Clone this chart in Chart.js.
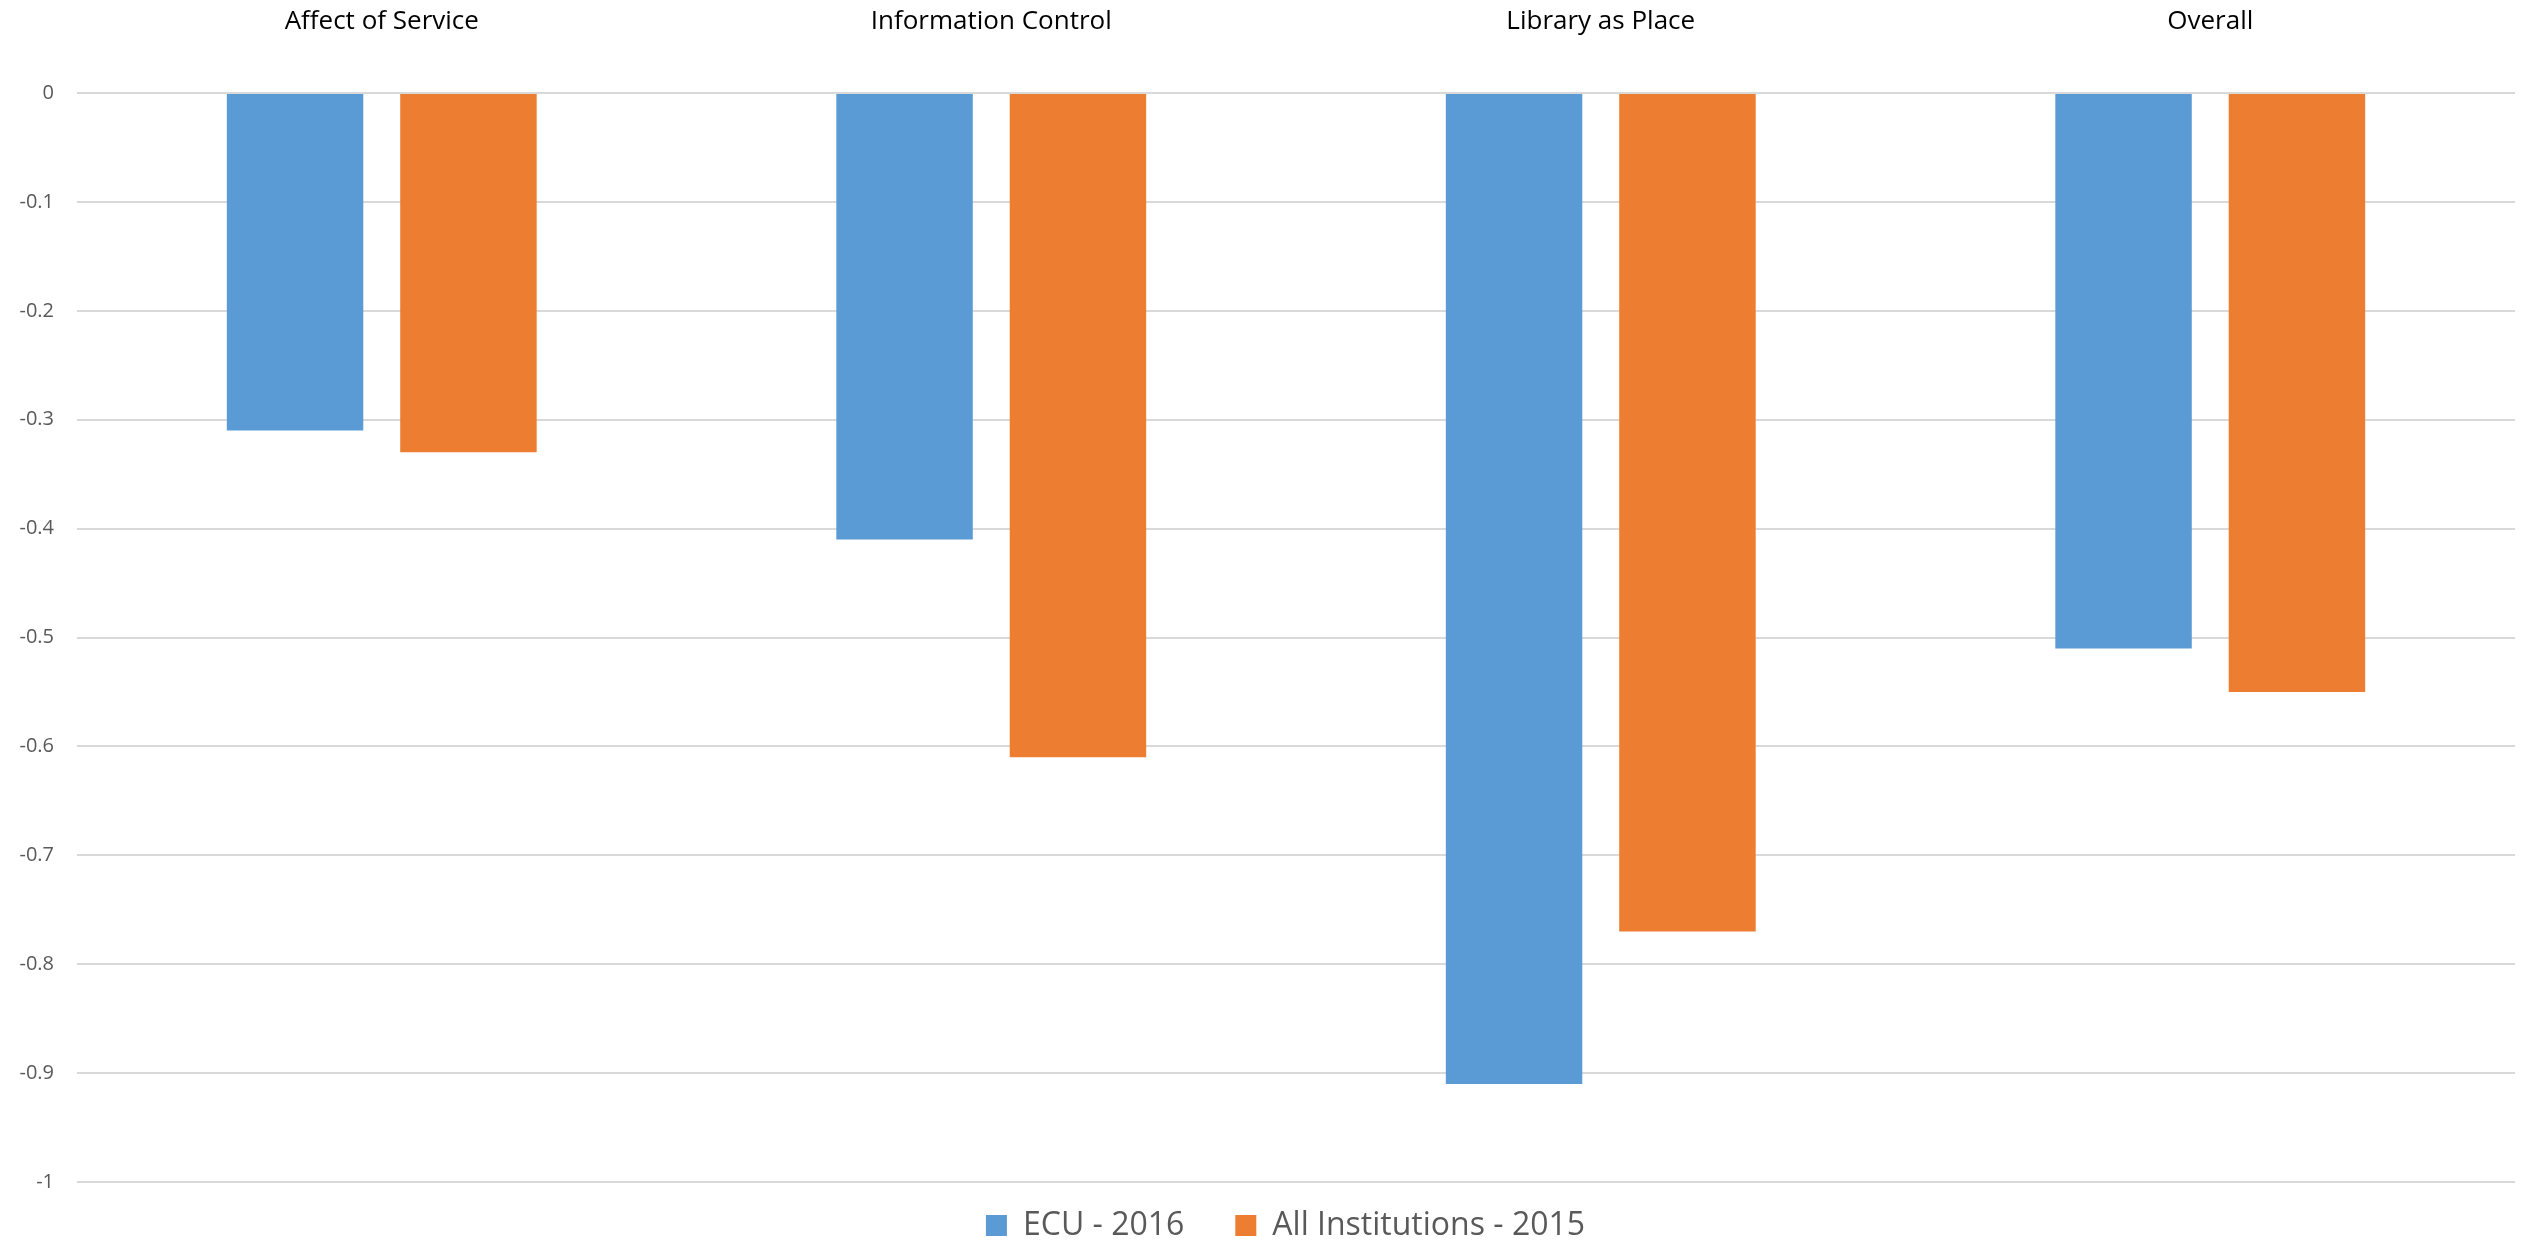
<!DOCTYPE html>
<html>
<head>
<meta charset="utf-8">
<script src="https://cdn.jsdelivr.net/npm/chart.js@4/dist/chart.umd.min.js"></script>
<style>
  html, body { margin: 0; padding: 0; background: #ffffff; }
  #c { display: block; }
</style>
</head>
<body>
<canvas id="c" width="2526" height="1243"></canvas>
<script>
const categories = ['Affect of Service', 'Information Control', 'Library as Place', 'Overall'];
const ecu2016 = [-0.31, -0.41, -0.91, -0.51];
const allInstitutions2015 = [-0.33, -0.61, -0.77, -0.55];
const seriesNames = ['ECU - 2016', 'All Institutions - 2015'];
const yTickLabels = ['-1', '-0.9', '-0.8', '-0.7', '-0.6', '-0.5', '-0.4', '-0.3', '-0.2', '-0.1', '0'];

const LEGEND_PAD = 51;
const LEGEND_FONT = 32;

const legendFix = {
  id: 'legendFix',
  beforeLayout(chart) {
    const lg = chart.legend;
    if (lg && !lg._patched) {
      const orig = lg.fit;
      lg.fit = function () { orig.call(this); this.height = 61; };
      lg._patched = true;
    }
  },
  afterLayout(chart) {
    const lg = chart.legend;
    if (lg) {
      lg.top = 1225.5 - LEGEND_FONT / 2 - LEGEND_PAD;
      lg.bottom = 1243;
      lg.height = lg.bottom - lg.top;
      lg.left = 56;
      lg.right = 2515;
      lg.width = lg.right - lg.left;
    }
  }
};

new Chart(document.getElementById('c'), {
  type: 'bar',
  data: {
    labels: categories,
    datasets: [
      { label: seriesNames[0], data: ecu2016, backgroundColor: '#5B9BD5', borderWidth: 0,
        categoryPercentage: 0.569, barPercentage: 0.787 },
      { label: seriesNames[1], data: allInstitutions2015, backgroundColor: '#ED7D31', borderWidth: 0,
        categoryPercentage: 0.569, barPercentage: 0.787 }
    ]
  },
  options: {
    responsive: false,
    animation: false,
    devicePixelRatio: 1,
    layout: { padding: { left: 0, right: 11, top: 0, bottom: 0 } },
    plugins: {
      tooltip: { enabled: false },
      title: { display: false },
      legend: {
        display: true,
        position: 'bottom',
        align: 'center',
        labels: {
          boxWidth: 21,
          boxHeight: 21,
          padding: LEGEND_PAD,
          color: '#595959',
          font: { family: '"Open Sans", "Noto Sans", sans-serif', size: LEGEND_FONT }
        }
      }
    },
    scales: {
      x: {
        position: 'top',
        grid: { display: false, drawTicks: false },
        border: { display: false },
        ticks: {
          padding: 56,
          maxRotation: 0,
          autoSkip: false,
          color: '#000000',
          font: { family: '"Open Sans", "Noto Sans", sans-serif', size: 26 }
        },
        afterFit(scale) { scale.height = 93; }
      },
      y: {
        min: -1,
        max: 0,
        grid: { color: '#d9d9d9', lineWidth: 2, drawTicks: false },
        border: { display: false },
        ticks: {
          stepSize: 0.1,
          padding: 23,
          color: '#595959',
          font: { family: '"Open Sans", "Noto Sans", sans-serif', size: 20 },
          callback: (v, i) => yTickLabels[i]
        },
        afterFit(scale) { scale.width = 77; }
      }
    }
  },
  plugins: [legendFix]
});
</script>
</body>
</html>
